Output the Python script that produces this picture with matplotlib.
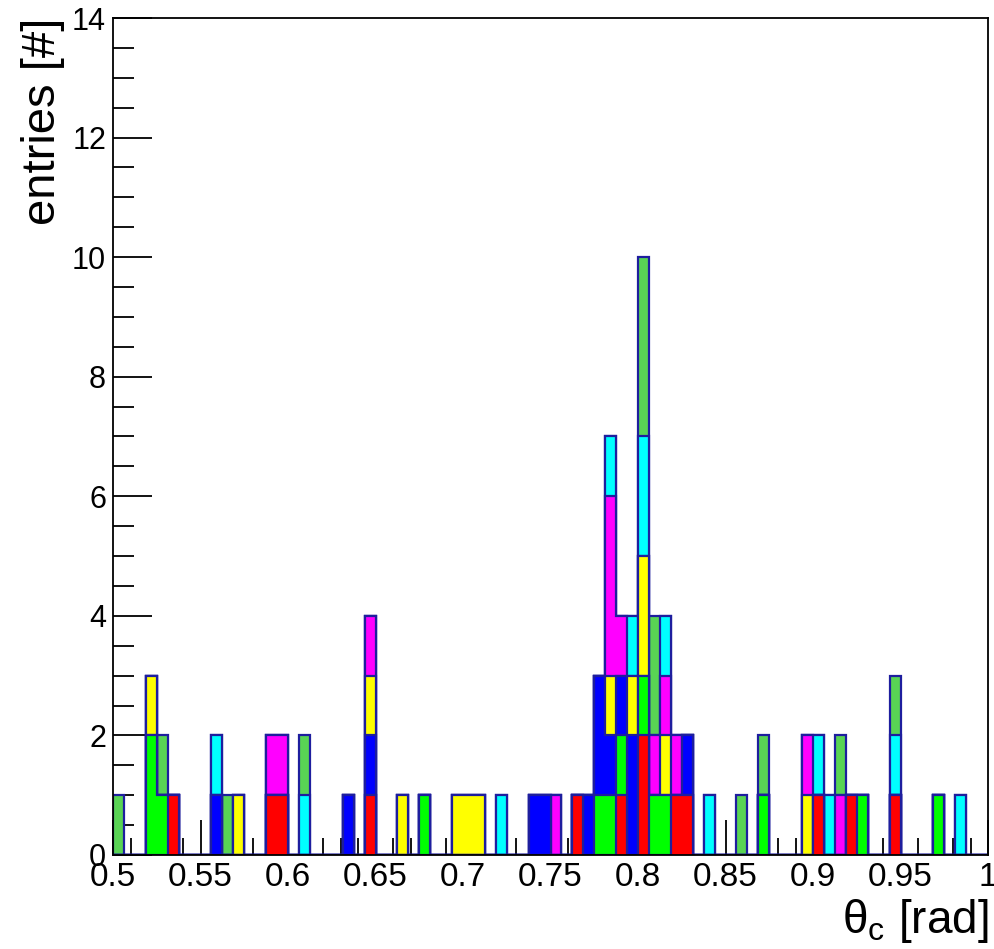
import numpy as np
import matplotlib
matplotlib.use('Agg')
import matplotlib.pyplot as plt
from matplotlib.ticker import MultipleLocator, FormatStrFormatter

plt.rcParams['font.family'] = ['Liberation Sans', 'DejaVu Sans']
plt.rcParams['mathtext.fontset'] = 'custom'
plt.rcParams['mathtext.rm'] = 'Liberation Sans'
plt.rcParams['mathtext.it'] = 'Liberation Sans:italic'

# 80 bins from 0.5 to 1.0, entries given as bin indices per stacked histogram
n_bins = 80
x_min, x_max = 0.5, 1.0

red_bins = [5, 14, 15, 23, 42, 46, 48, 48, 51, 52, 64, 67, 71]
green_bins = [3, 3, 4, 28, 44, 45, 46, 48, 49, 50, 59, 68, 75]
blue_bins = [9, 21, 23, 38, 39, 43, 44, 44, 45, 46, 47, 47, 52]
yellow_bins = [3, 11, 23, 26, 31, 32, 33, 45, 47, 48, 48, 50, 63]
magenta_bins = [14, 15, 23, 40, 45, 45, 45, 46, 49, 50, 51, 63, 66]
cyan_bins = [9, 17, 35, 45, 47, 48, 48, 50, 54, 64, 65, 71, 77]
mgreen_bins = [0, 4, 10, 17, 48, 48, 48, 49, 49, 57, 59, 66, 71]

layers = [red_bins, green_bins, blue_bins, yellow_bins,
          magenta_bins, cyan_bins, mgreen_bins]
colors = ['#ff0000', '#00ff00', '#0000ff', '#ffff00',
          '#ff00ff', '#00ffff', '#59d454']
line_col = '#1e1e9e'

edges = np.linspace(x_min, x_max, n_bins + 1)
counts = [np.bincount(b, minlength=n_bins) for b in layers]
cum = np.cumsum(counts, axis=0)

fig = plt.figure(figsize=(9.95, 9.49), dpi=100)
ax = fig.add_axes([0.1136, 0.0991, 0.993 - 0.1136, 0.981 - 0.0991])
ax.set_axisbelow(True)

# draw like a THStack: biggest sum first
for i in range(len(layers) - 1, -1, -1):
    ax.stairs(cum[i], edges, fill=True, color=colors[i], baseline=0)
    ax.stairs(cum[i], edges, fill=False, color=line_col, baseline=0,
              linewidth=1.6)

ax.set_xlim(x_min, x_max)
ax.set_ylim(0, 14)

ax.xaxis.set_major_locator(MultipleLocator(0.05))
ax.xaxis.set_minor_locator(MultipleLocator(0.01))
ax.xaxis.set_major_formatter(FormatStrFormatter('%g'))
ax.yaxis.set_major_locator(MultipleLocator(2))
ax.yaxis.set_minor_locator(MultipleLocator(0.5))

ax.tick_params(which='both', direction='in', top=False, right=False,
               width=1.3)
ax.tick_params(axis='x', which='major', length=25, pad=5, labelsize=24)
ax.tick_params(axis='x', which='minor', length=12)
ax.tick_params(axis='y', which='major', length=28, pad=5, labelsize=22)
ax.tick_params(axis='y', which='minor', length=15)
for s in ax.spines.values():
    s.set_linewidth(1.3)

ax.set_xlabel(r'θ$_\mathrm{c}$ [rad]', fontsize=33, loc='right', labelpad=3)
ax.set_ylabel('entries [#]', fontsize=34, loc='top', labelpad=5)

fig.savefig('out.png', dpi=100)
